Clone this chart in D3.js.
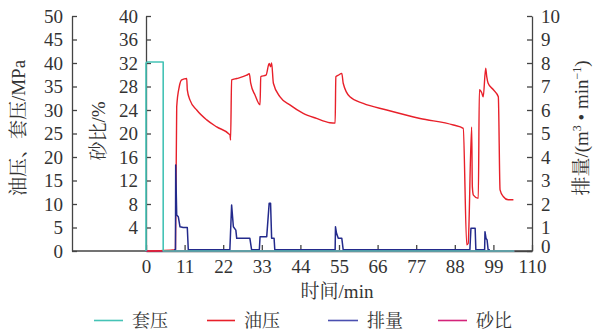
<!DOCTYPE html>
<html><head><meta charset="utf-8">
<script src="https://cdn.jsdelivr.net/npm/d3@7"></script>
<style>
html,body{margin:0;padding:0;background:#fff;}
svg text{font-family:"Liberation Serif","Noto Serif CJK SC","Noto Sans CJK SC",serif;fill:#333;}
</style></head>
<body>
<svg id="chart" width="595" height="331"></svg>
<script>
// ---- data ----
const xTicks = [0, 11, 22, 33, 44, 55, 66, 77, 88, 99, 110];
const pressureTicks = [0, 5, 10, 15, 20, 25, 30, 35, 40, 45, 50];
const sandTicks = [0, 4, 8, 12, 16, 20, 24, 28, 32, 36, 40];
const rateTicks = [0, 1, 2, 3, 4, 5, 6, 7, 8, 9, 10];
const legendNames = ["套压", "油压", "排量", "砂比"];

const casingT = [0, 0, 0.3, 4.9, 4.9, 105];
const casingP = [0, 40.0, 40.2, 40.2, 0, 0];

const oilT = [0.5, 8.4, 8.75, 9.49, 10.17, 11.6, 11.77, 12.54, 14.45, 17.3, 20.15, 23.94, 24.1, 24.4, 25.85, 28.7, 29.44, 29.84, 31.06, 32.5, 32.7, 34.2, 35.1, 35.5, 35.8, 36.3, 38.2, 41.0, 44.8, 48.6, 52.4, 53.9, 54.1, 54.8, 55.8, 56.2, 58.1, 61.9, 68.6, 78.1, 87.6, 90.4, 91.4, 91.8, 92.8, 93.0, 93.3, 94.7, 95.0, 95.7, 96.1, 96.8, 97.1, 97.5, 99.0, 100.4, 100.9, 101.8, 103.2, 104.7];
const oilP = [0, 0.3, 30.7, 35.0, 36.4, 36.7, 34.3, 32.1, 30.0, 27.9, 26.4, 24.7, 23.6, 36.4, 36.7, 37.4, 37.7, 35.7, 33.2, 31.1, 37.1, 37.4, 39.9, 39.2, 40.0, 35.7, 32.8, 31.1, 29.3, 28.2, 27.3, 27.2, 37.1, 37.4, 37.8, 35.7, 32.8, 31.4, 30.0, 28.2, 26.8, 26.1, 1.3, 1.6, 26.4, 13.7, 11.9, 11.2, 34.3, 33.6, 32.8, 38.9, 37.1, 35.7, 34.3, 32.8, 13.0, 11.6, 10.9, 10.9];

const rateT = [8.0, 8.4, 8.46, 8.75, 9.2, 9.69, 10.6, 11.77, 12.05, 23.9, 24.2, 24.4, 24.9, 25.6, 25.85, 29.6, 30.1, 32.3, 32.5, 34.4, 35.1, 35.5, 35.8, 36.5, 36.7, 53.9, 54.0, 54.3, 54.8, 55.8, 56.2, 92.3, 92.6, 93.8, 94.0, 96.5, 96.6, 96.9, 97.2, 97.5, 98.0];
const rateQ = [0.05, 0.05, 3.66, 1.53, 1.46, 1.03, 1.0, 1.0, 0.05, 0.05, 1.2, 1.96, 1.03, 0.89, 0.54, 0.54, 0.05, 0.05, 0.61, 0.61, 2.03, 2.03, 0.54, 0.54, 0.05, 0.05, 1.03, 0.75, 0.54, 0.54, 0.05, 0.05, 0.97, 0.97, 0.05, 0.05, 0.82, 0.54, 0.47, 0.05, 0.05];

const sandT = [0, 105];
const sandR = [0, 0];

// ---- styles ----
const colors = {casing: "#45c3b6", oil: "#e8202a", rate: "#232a8c", sand: "#d4237a"};
const legendColors = ["#45c3b6", "#e8202a", "#4a4fb0", "#d4237a"];
const axisColor = "#444";

const svg = d3.select("#chart");
const x = d3.scaleLinear().domain([0, 110]).range([146, 532]);
const yP = d3.scaleLinear().domain([0, 50]).range([251, 16]);
const yS = d3.scaleLinear().domain([0, 40]).range([251, 16]);
const yQ = d3.scaleLinear().domain([0, 10]).range([251, 16]);
const fs = 19;

function styleAxis(g) {
  g.selectAll("path,line").attr("stroke", axisColor).attr("stroke-width", 1.3);
  g.selectAll("text").attr("font-size", fs).attr("fill", "#333")
    .attr("font-family", '"Liberation Serif",serif');
}

// x axis base line extending to left axis
svg.append("line").attr("x1", 72).attr("x2", 532).attr("y1", 251).attr("y2", 251)
  .attr("stroke", axisColor).attr("stroke-width", 1.3);

svg.append("g").attr("transform", "translate(0,251)")
  .call(d3.axisBottom(x).tickValues(xTicks).tickSize(-6).tickSizeOuter(0).tickPadding(9))
  .call(styleAxis);

svg.append("g").attr("transform", "translate(72,0)")
  .call(d3.axisLeft(yP).tickValues(pressureTicks).tickSize(-5).tickSizeOuter(0).tickPadding(9))
  .call(styleAxis);

svg.append("g").attr("transform", "translate(146,0)")
  .call(d3.axisLeft(yS).tickValues(sandTicks.filter(d => d > 0)).tickSize(-5).tickSizeOuter(0).tickPadding(8))
  .call(styleAxis);

const rAxis = svg.append("g").attr("transform", "translate(532,0)")
  .call(d3.axisRight(yQ).tickValues(rateTicks).tickSize(-5).tickSizeOuter(0).tickPadding(9))
  .call(styleAxis);
rAxis.selectAll(".tick text").filter(d => d === 0).attr("dy", "0.1em");

// series
function drawLine(ts, vs, yScale, color, w, curve) {
  const pts = ts.map((t, i) => [t, vs[i]]);
  svg.append("path").datum(pts)
    .attr("fill", "none").attr("stroke", color).attr("stroke-width", w)
    .attr("stroke-linejoin", "round")
    .attr("d", d3.line().curve(curve || d3.curveLinear).x(d => x(d[0])).y(d => yScale(d[1])));
}
drawLine(sandT, sandR, yS, colors.sand, 1.5);
drawLine(oilT, oilP, yP, colors.oil, 1.4, d3.curveMonotoneX);
drawLine(rateT, rateQ, yQ, colors.rate, 1.5);
drawLine(casingT, casingP, yP, colors.casing, 1.6);

// axis titles
svg.append("text").attr("transform", "translate(25,128) rotate(-90)")
  .attr("text-anchor", "middle").attr("font-size", fs).text("油压、套压/MPa");
svg.append("text").attr("transform", "translate(105,131) rotate(-90)")
  .attr("text-anchor", "middle").attr("font-size", fs).text("砂比/%");
const rt = svg.append("text").attr("transform", "translate(588,128) rotate(-90)")
  .attr("text-anchor", "middle").attr("font-size", fs);
rt.append("tspan").text("排量/(m");
rt.append("tspan").attr("baseline-shift", "super").attr("font-size", 12).text("3");
rt.append("tspan").text(" • min");
rt.append("tspan").attr("baseline-shift", "super").attr("font-size", 12).text("−1");
rt.append("tspan").text(")");
svg.append("text").attr("x", 337).attr("y", 298).attr("text-anchor", "middle")
  .attr("font-size", fs).text("时间/min");

// legend
const legX = [94, 207, 328, 438];
const legW = [29, 28, 30, 29];
legendNames.forEach((n, i) => {
  svg.append("line").attr("x1", legX[i]).attr("x2", legX[i] + legW[i])
    .attr("y1", 320.5).attr("y2", 320.5).attr("stroke", legendColors[i]).attr("stroke-width", 1.6);
  svg.append("text").attr("x", legX[i] + legW[i] + 9).attr("y", 327)
    .attr("font-size", 18).text(n);
});
</script>
</body></html>
